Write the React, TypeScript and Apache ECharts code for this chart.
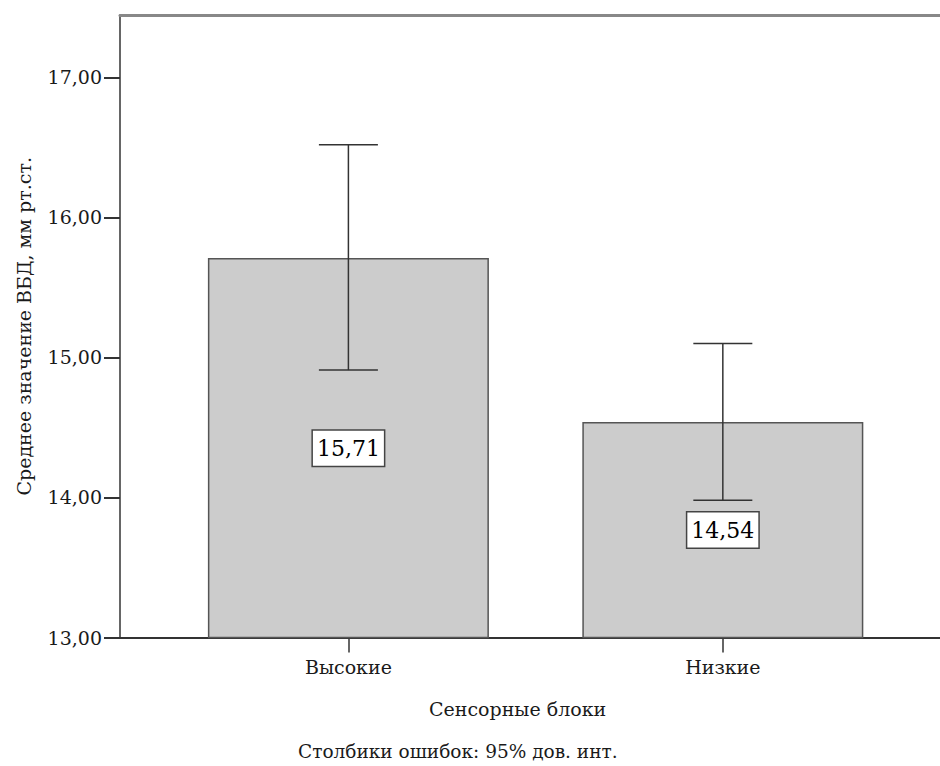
import React, { useEffect, useRef } from "react";
import * as echarts from "echarts";

const categories = ["Высокие", "Низкие"];
const means = [15.71, 14.54];
const ciLow = [14.91, 13.98];
const ciHigh = [16.52, 15.1];
const yTicks = [13, 14, 15, 16, 17];
const xTitle = "Сенсорные блоки";
const yTitle = "Среднее значение ВБД, мм рт.ст.";
const footnote = "Столбики ошибок: 95% дов. инт.";

const FONT = "DejaVu Serif";
const fmt = (v: number) => v.toFixed(2).replace(".", ",");

export default function App() {
  const ref = useRef<HTMLDivElement>(null);
  useEffect(() => {
    if (!ref.current) return;
    const chart = echarts.init(ref.current, null, { renderer: "svg" });
    const xMin = -0.61;
    const xMax = 1.58;
    chart.setOption({
      animation: false,
      backgroundColor: "#ffffff",
      textStyle: { fontFamily: FONT },
      grid: { left: 120, right: 0, top: 15, bottom: 128.5, containLabel: false },
      xAxis: [
        {
          type: "value",
          min: xMin,
          max: xMax,
          splitLine: { show: false },
          axisLine: { show: true, onZero: false, lineStyle: { color: "#333", width: 2 } },
          axisTick: { show: true, length: 15, customValues: [0, 1], lineStyle: { color: "#333", width: 1.5 } },
          axisLabel: {
            customValues: [0, 1],
            formatter: (v: number) => categories[Math.round(v)] ?? "",
            fontFamily: FONT,
            fontSize: 19,
            color: "#1a1a1a",
            margin: 20,
          },
        },
        {
          type: "value",
          position: "top",
          min: xMin,
          max: xMax,
          splitLine: { show: false },
          axisLine: { show: true, onZero: false, lineStyle: { color: "#888", width: 3 } },
          axisTick: { show: false },
          axisLabel: { show: false },
        },
      ],
      yAxis: {
        type: "value",
        min: 13,
        max: 17.446,
        interval: 1,
        name: yTitle,
        nameLocation: "middle",
        nameGap: 87,
        nameTextStyle: { fontFamily: FONT, fontSize: 19, color: "#1a1a1a" },
        splitLine: { show: false },
        axisLine: { show: true, onZero: false, lineStyle: { color: "#333", width: 1.5 } },
        axisTick: { show: true, length: 16, customValues: yTicks, lineStyle: { color: "#333", width: 2 } },
        axisLabel: {
          customValues: yTicks,
          formatter: (v: number) => fmt(v),
          fontFamily: FONT,
          fontSize: 19,
          color: "#1a1a1a",
          margin: 18,
        },
      },
      series: [
        {
          type: "bar",
          xAxisIndex: 0,
          barWidth: 281,
          data: categories.map((_, i) => [i, means[i]]),
          itemStyle: { color: "#cccccc", borderColor: "#555", borderWidth: 1.5 },
          label: {
            show: true,
            position: "inside",
            formatter: (p: any) => fmt(p.value[1]),
            fontFamily: FONT,
            fontSize: 22,
            color: "#000",
            backgroundColor: "#fff",
            borderColor: "#444",
            borderWidth: 1.5,
            padding: [7, 4, 6, 4],
          },
          z: 2,
        },
        {
          type: "custom",
          xAxisIndex: 0,
          data: categories.map((_, i) => [i, ciLow[i], ciHigh[i]]),
          renderItem: (params: any, api: any) => {
            const x = api.value(0);
            const lo = api.coord([x, api.value(1)]);
            const hi = api.coord([x, api.value(2)]);
            const half = 29.5;
            const style = { stroke: "#333", lineWidth: 1.5 };
            return {
              type: "group",
              children: [
                { type: "line", shape: { x1: hi[0], y1: hi[1], x2: lo[0], y2: lo[1] }, style },
                { type: "line", shape: { x1: hi[0] - half, y1: hi[1], x2: hi[0] + half, y2: hi[1] }, style },
                { type: "line", shape: { x1: lo[0] - half, y1: lo[1], x2: lo[0] + half, y2: lo[1] }, style },
              ],
            };
          },
          z: 3,
        },
      ],
      graphic: [
        {
          type: "text",
          left: 429,
          top: 699,
          style: { text: xTitle, fontFamily: FONT, fontSize: 19, fill: "#1a1a1a" },
        },
        {
          type: "text",
          left: 298,
          top: 742,
          style: { text: footnote, fontFamily: FONT, fontSize: 18.5, fill: "#1a1a1a" },
        },
      ],
    });
    return () => chart.dispose();
  }, []);
  return <div ref={ref} style={{ width: 940, height: 766, position: "absolute", left: 0, top: 0 }} />;
}
